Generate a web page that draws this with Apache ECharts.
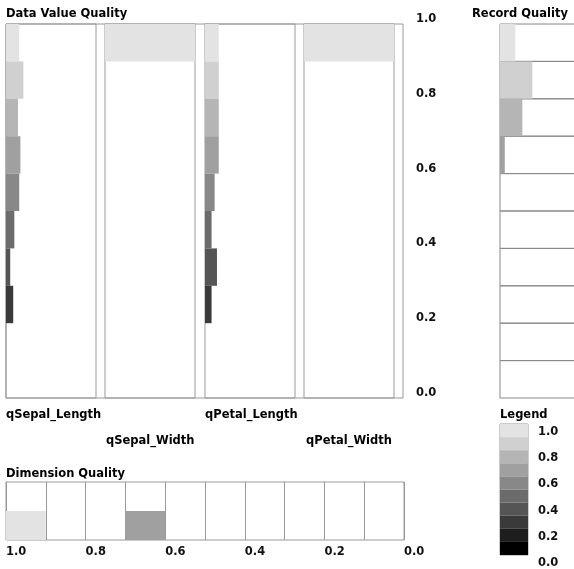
<!DOCTYPE html>
<html>
<head>
<meta charset="utf-8">
<script src="https://cdn.jsdelivr.net/npm/echarts@6/dist/echarts.min.js"></script>
<style>
  html, body { margin: 0; padding: 0; background: #fff; }
  #main { width: 574px; height: 569px; }
</style>
</head>
<body>
<div id="main"></div>
<script>
// quality bins, top (best) to bottom
var bins = ['1.0', '0.9', '0.8', '0.7', '0.6', '0.5', '0.4', '0.3', '0.2', '0.1'];
var dimNames = ['qSepal_Length', 'qSepal_Width', 'qPetal_Length', 'qPetal_Width'];

// share of records falling in each bin, per dimension
var qSepalLength = [0.147, 0.193, 0.133, 0.16, 0.147, 0.093, 0.047, 0.08, 0, 0];
var qSepalWidth  = [1, 0, 0, 0, 0, 0, 0, 0, 0, 0];
var qPetalLength = [0.153, 0.153, 0.153, 0.153, 0.107, 0.073, 0.133, 0.073, 0, 0];
var qPetalWidth  = [1, 0, 0, 0, 0, 0, 0, 0, 0, 0];

// record quality share per bin
var recordQuality = [0.2, 0.42, 0.29, 0.062, 0, 0, 0, 0, 0, 0];
// dimension quality share per bin (4 dims)
var dimensionQuality = [0.5, 0, 0, 0.5, 0, 0, 0, 0, 0, 0];
// legend bands
var legendBands = [1, 1, 1, 1, 1, 1, 1, 1, 1, 1];

var grays = ['#e3e3e3', '#d0d0d0', '#b5b5b5', '#a0a0a0', '#888888',
             '#6c6c6c', '#555555', '#3a3a3a', '#1e1e1e', '#000000'];

var font = 'DejaVu Sans';
var txt = {fontFamily: font, fontSize: 11.5, fontWeight: 'bold', color: '#000'};

function colored(arr) {
    return arr.map(function (v, i) {
        return {value: v, itemStyle: {color: grays[i]}};
    });
}

var myChart = echarts.init(document.getElementById('main'));

var colLefts = [6, 105, 205, 304];
var grid = [{left: 6, top: 24, width: 397, height: 374, show: true, borderColor: '#999', borderWidth: 1}];
colLefts.forEach(function (l) {
    grid.push({left: l, top: 24, width: 90, height: 374, show: true, borderColor: '#999', borderWidth: 1});
});
// record quality rows: run off the right edge of the page
grid.push({left: 500, top: 24, width: 77, height: 374, show: false, outerBoundsMode: 'none'});
grid.push({left: 6, top: 482, width: 398, height: 58, show: true, borderColor: '#999', borderWidth: 1});
grid.push({left: 500, top: 424, width: 28, height: 134, show: true, borderColor: '#999', borderWidth: 1});

var hiddenVal = function (gi) {
    return {type: 'value', gridIndex: gi, min: 0, max: 1, show: false};
};
var hiddenCat = function (gi, data) {
    return {type: 'category', gridIndex: gi, data: data, inverse: true, show: false};
};

var xAxis = [hiddenVal(0), hiddenVal(1), hiddenVal(2), hiddenVal(3), hiddenVal(4), hiddenVal(5),
    {
        type: 'category', gridIndex: 6, data: bins, position: 'bottom',
        axisLine: {show: false}, axisTick: {show: false}, axisLabel: {show: false},
        splitLine: {show: true, lineStyle: {color: '#999'}}
    },
    {
        type: 'value', gridIndex: 6, min: 0, max: 1, interval: 0.2, inverse: true, position: 'bottom',
        axisLine: {show: false}, axisTick: {show: false}, splitLine: {show: false},
        axisLabel: {
            fontFamily: font, fontSize: 11.5, fontWeight: 'bold', color: '#111', align: 'left', margin: 6,
            formatter: function (v) { return v.toFixed(1); }
        }
    },
    hiddenVal(7)
];

var yAxis = [
    {
        type: 'value', gridIndex: 0, min: 0, max: 1, interval: 0.2, position: 'right',
        axisLine: {show: false}, axisTick: {show: false}, splitLine: {show: false},
        axisLabel: {
            fontFamily: font, fontSize: 11.5, fontWeight: 'bold', color: '#111', margin: 13,
            verticalAlign: 'bottom', lineHeight: 10,
            formatter: function (v) { return v.toFixed(1); }
        }
    },
    hiddenCat(1, bins), hiddenCat(2, bins), hiddenCat(3, bins), hiddenCat(4, bins),
    hiddenCat(5, bins),
    hiddenVal(6),
    hiddenCat(7, bins),
    {
        type: 'value', gridIndex: 7, min: 0, max: 1, interval: 0.2, position: 'right',
        axisLine: {show: false}, axisTick: {show: false}, splitLine: {show: false},
        axisLabel: {
            fontFamily: font, fontSize: 11.5, fontWeight: 'bold', color: '#111', margin: 10,
            verticalAlign: 'top', padding: [2, 0, 0, 0],
            formatter: function (v) { return v.toFixed(1); }
        }
    }
];

var dimData = [qSepalLength, qSepalWidth, qPetalLength, qPetalWidth];
var series = dimData.map(function (arr, i) {
    return {
        name: dimNames[i], type: 'bar', xAxisIndex: i + 1, yAxisIndex: i + 1,
        barWidth: '100%', data: colored(arr), silent: true
    };
});
// each record row is its own outlined box
series.push({
    type: 'bar', xAxisIndex: 5, yAxisIndex: 5, barWidth: '100%', data: colored(recordQuality), silent: true,
    showBackground: true,
    backgroundStyle: {color: 'rgba(0,0,0,0)', borderColor: '#888', borderWidth: 1}
});
series.push({type: 'bar', xAxisIndex: 6, yAxisIndex: 6, barWidth: '100%', data: colored(dimensionQuality), silent: true});
series.push({type: 'bar', xAxisIndex: 8, yAxisIndex: 7, barWidth: '100%', data: colored(legendBands), silent: true});

var title = [
    {text: 'Data Value Quality', left: 6, top: 8},
    {text: 'Record Quality', left: 472, top: 8},
    {text: dimNames[0], left: 6, top: 409},
    {text: dimNames[2], left: 205, top: 409},
    {text: dimNames[1], left: 106, top: 435},
    {text: dimNames[3], left: 306, top: 435},
    {text: 'Dimension Quality', left: 6, top: 468},
    {text: 'Legend', left: 500, top: 409}
].map(function (t) {
    t.padding = 0;
    t.textStyle = txt;
    return t;
});

myChart.setOption({
    animation: false,
    backgroundColor: '#fff',
    title: title,
    grid: grid,
    xAxis: xAxis,
    yAxis: yAxis,
    series: series
});
</script>
</body>
</html>
